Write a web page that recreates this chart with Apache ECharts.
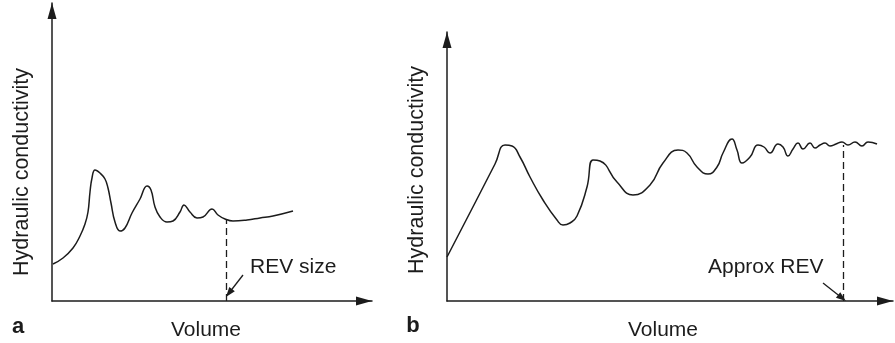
<!DOCTYPE html>
<html>
<head>
<meta charset="utf-8">
<script src="https://cdn.jsdelivr.net/npm/echarts@6/dist/echarts.min.js"></script>
<style>html,body{margin:0;padding:0;background:#fff}#c{width:895px;height:343px}</style>
</head>
<body>
<div id="c"></div>
<script>
// Panel a: volume vs hydraulic conductivity (arbitrary units)
var curveA = [[1,37],[11,43],[21,53],[28,65],[33,77],[36,89],[38,109],[40,123],[43,131],[48,128],[53,122],[56,113],[59,98],[63,79],[68,70],[73,73],[80,88],[88,102],[95,115],[99,111],[103,94],[108,84],[115,79],[121,80],[128,89],[132,96],[138,89],[145,83],[151,84],[160,92],[166,86],[173,82],[181,80],[195,81],[208,83],[221,85],[241,90]];
var revA = [174, 82];          // REV size position (volume, K at curve)
var revArrowA = [[191,26],[177,8]];
// Panel b
var curveB = [[0,44],[29,100],[48,137],[58,156],[65,155],[73,144],[83,124],[96,101],[110,81],[116,76],[123,78],[130,85],[140,114],[146,141],[153,140],[170,119],[186,106],[203,116],[216,138],[231,151],[240,148],[250,134],[261,127],[270,134],[276,148],[285,162],[290,151],[295,138],[303,144],[311,156],[317,154],[323,148],[331,157],[336,154],[341,145],[346,152],[351,158],[356,152],[363,158],[368,153],[373,156],[378,158],[383,155],[389,157],[395,159],[401,156],[408,159],[415,155],[421,159],[430,157]];
var revB = [396, 156];
var revArrowB = [[376,18],[395,3]];
var labels = {y: 'Hydraulic conductivity', x: 'Volume', revA: 'REV size', revB: 'Approx REV', a: 'a', b: 'b'};

var INK = '#1c1c1c';
var FONT = 'Liberation Sans, Arial, Helvetica, sans-serif';

function axisCommon(min, max) {
  return {
    type: 'value', min: min, max: max,
    axisLine: {show: true, onZero: false, symbol: ['none', 'triangle'], symbolSize: [9, 16], symbolOffset: [0, -8],
      lineStyle: {color: INK, width: 1.5}},
    axisTick: {show: false}, axisLabel: {show: false}, splitLine: {show: false}
  };
}

function marks(rev, arrow) {
  return {
    silent: true, animation: false,
    symbol: ['none', 'triangle'], symbolSize: [7, 10],
    label: {show: false},
    data: [
      [{coord: [rev[0], 0], symbol: 'none', lineStyle: {type: [7, 4], color: INK, width: 1.3}},
       {coord: [rev[0], rev[1]], symbol: 'none'}],
      [{coord: arrow[0], symbol: 'none', lineStyle: {type: 'solid', color: INK, width: 1.3}},
       {coord: arrow[1], symbol: 'triangle'}]
    ]
  };
}

var chart = echarts.init(document.getElementById('c'));
chart.setOption({
  animation: false,
  backgroundColor: '#fff',
  grid: [
    {left: 52, top: 3, width: 320, height: 298},
    {left: 447, top: 32, width: 446, height: 269}
  ],
  xAxis: [
    Object.assign(axisCommon(0, 320), {gridIndex: 0}),
    Object.assign(axisCommon(0, 446), {gridIndex: 1})
  ],
  yAxis: [
    Object.assign(axisCommon(0, 298), {gridIndex: 0}),
    Object.assign(axisCommon(0, 269), {gridIndex: 1})
  ],
  series: [
    {type: 'line', xAxisIndex: 0, yAxisIndex: 0, data: curveA, smooth: 0.45, symbol: 'none',
      lineStyle: {color: INK, width: 1.5}, markLine: marks(revA, revArrowA)},
    {type: 'line', xAxisIndex: 1, yAxisIndex: 1, data: curveB, smooth: 0.5, symbol: 'none',
      lineStyle: {color: INK, width: 1.5}, markLine: marks(revB, revArrowB)}
  ],
  graphic: [
    {type: 'text', x: 22, y: 172, rotation: Math.PI / 2, style: {text: labels.y, font: '21.5px ' + FONT, fill: INK, align: 'center', verticalAlign: 'middle'}},
    {type: 'text', x: 417, y: 170, rotation: Math.PI / 2, style: {text: labels.y, font: '21.5px ' + FONT, fill: INK, align: 'center', verticalAlign: 'middle'}},
    {type: 'text', x: 206, y: 330, style: {text: labels.x, font: '21px ' + FONT, fill: INK, align: 'center', verticalAlign: 'middle'}},
    {type: 'text', x: 663, y: 330, style: {text: labels.x, font: '21px ' + FONT, fill: INK, align: 'center', verticalAlign: 'middle'}},
    {type: 'text', x: 18, y: 327, style: {text: labels.a, font: 'bold 22px ' + FONT, fill: INK, align: 'center', verticalAlign: 'middle'}},
    {type: 'text', x: 413, y: 326, style: {text: labels.b, font: 'bold 22px ' + FONT, fill: INK, align: 'center', verticalAlign: 'middle'}},
    {type: 'text', x: 250, y: 267, style: {text: labels.revA, font: '21px ' + FONT, fill: INK, align: 'left', verticalAlign: 'middle'}},
    {type: 'text', x: 708, y: 267, style: {text: labels.revB, font: '21px ' + FONT, fill: INK, align: 'left', verticalAlign: 'middle'}}
  ]
});
</script>
</body>
</html>
